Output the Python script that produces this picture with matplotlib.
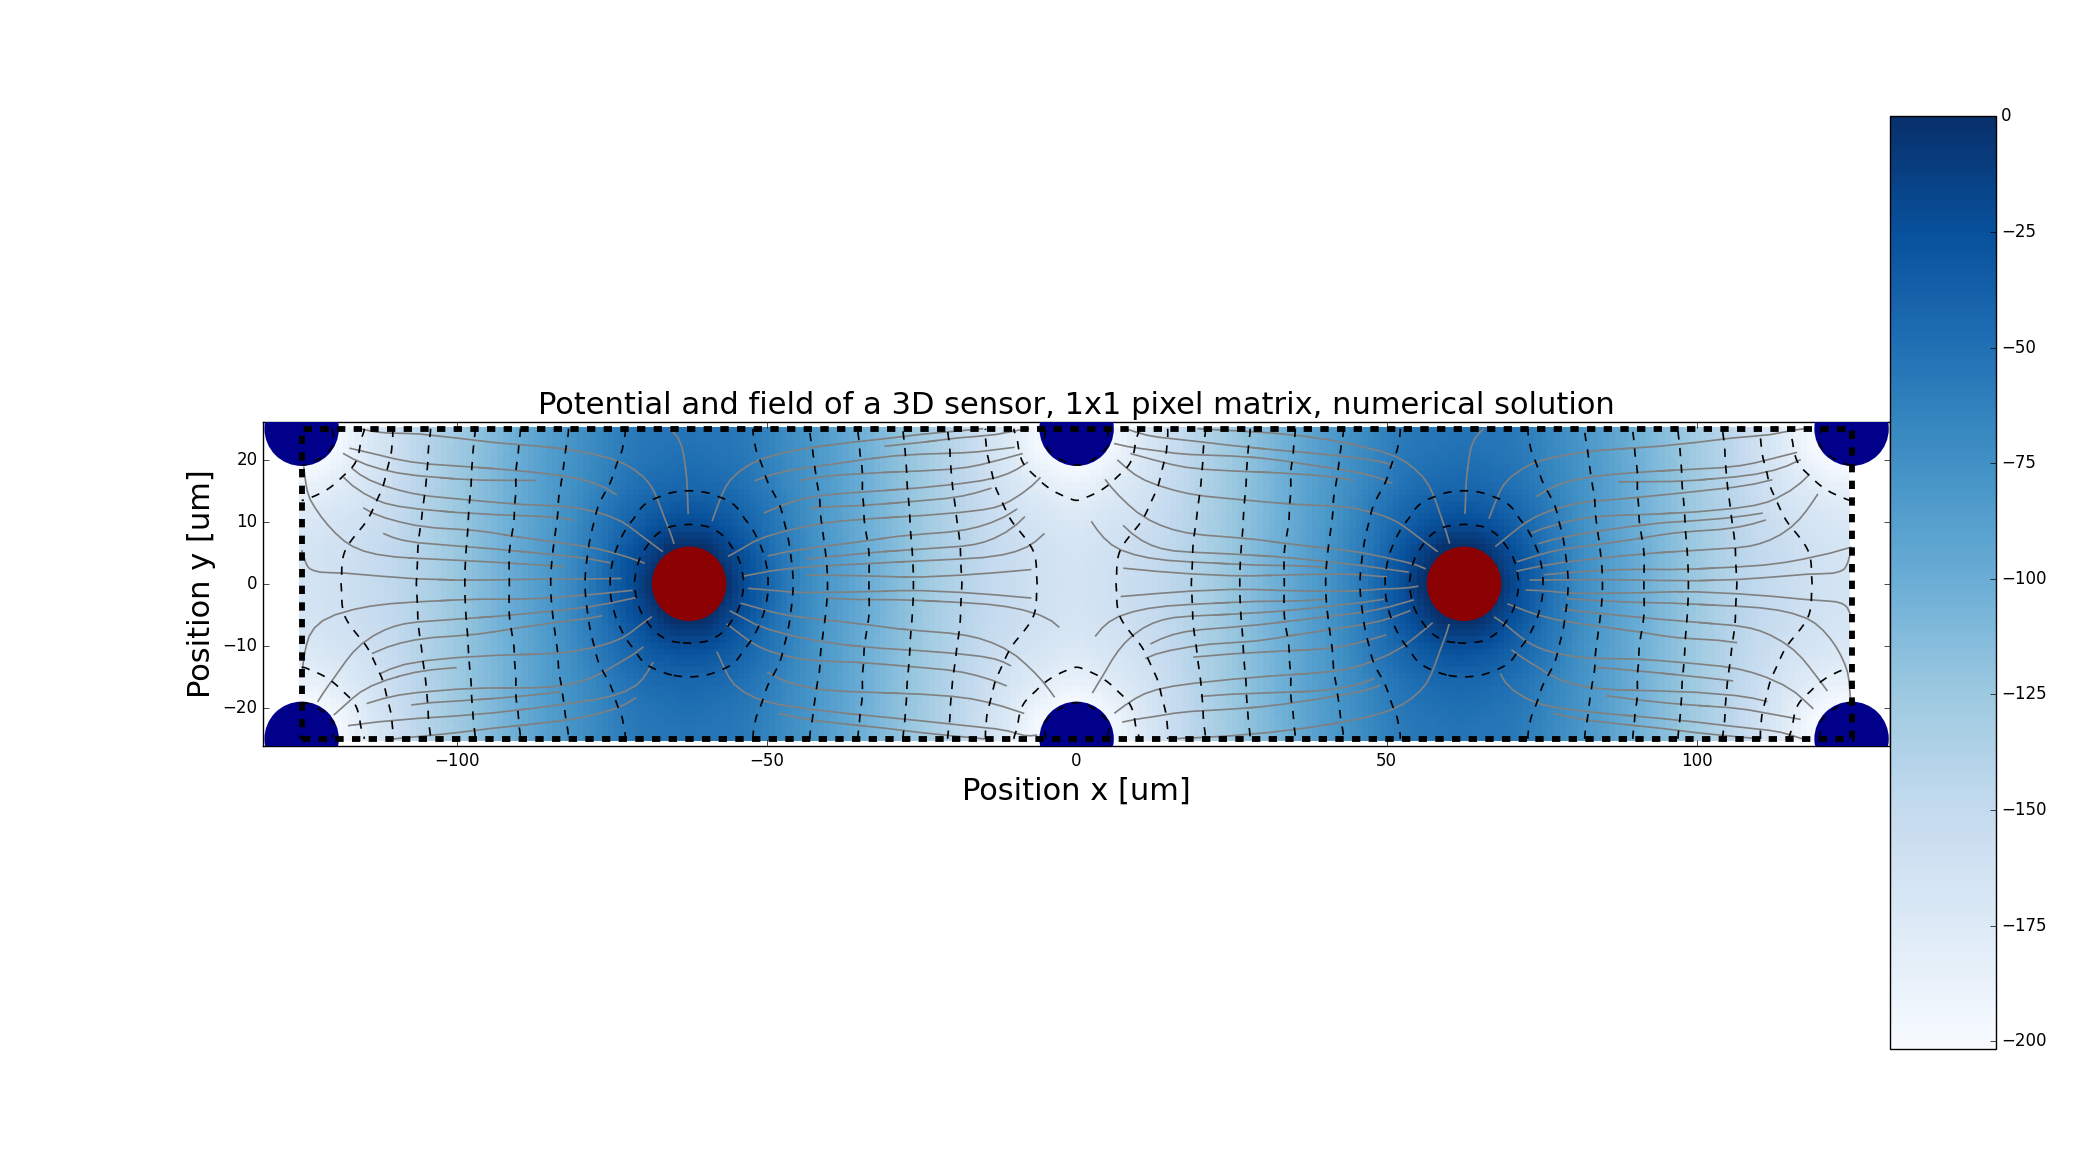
import matplotlib
matplotlib.use("Agg")
import matplotlib.pyplot as plt
import matplotlib.tri as mtri
import numpy as np

plt.style.use("classic")
plt.rcParams["figure.facecolor"] = "white"
plt.rcParams["savefig.facecolor"] = "white"
plt.rcParams["font.family"] = "DejaVu Sans"

TITLE = "Potential and field of a 3D sensor, 1x1 pixel matrix, numerical solution"
X_LABEL = "Position x [um]"
Y_LABEL = "Position y [um]"
X_TICKS = [-100, -50, 0, 50, 100]
Y_TICKS = [-20, -10, 0, 10, 20]
CBAR_TICKS = [0, -25, -50, -75, -100, -125, -150, -175, -200]
CONTOUR_LEVELS = [-200, -180, -160, -140, -120, -100, -80, -60, -40, -20]

# Column electrodes [um]
READOUT_COLUMNS = [(-62.5, 0), (62.5, 0)]
BIAS_COLUMNS = [(-125, 25), (-125, -25), (0, 25), (0, -25), (125, 25), (125, -25)]
COLUMN_RADIUS = 6.0
PIXEL_X = (-125, 125)
PIXEL_Y = (-25, 25)

# Potential [V] in one quadrant of a readout column:
# columns are the x distance from the readout column, rows are |y|.
dist_x = [0, 3, 6, 9, 12.5, 17, 22, 29, 36, 44, 50, 54, 57, 60, 62.5]
dist_y = [0, 5, 10, 13, 15, 18, 21, 23, 25]
pot_y00 = [25, 15, 0, -21, -39, -61, -79, -100, -119.5, -140, -151, -157, -161, -164, -165]
pot_y05 = [5, 2, -13, -26, -43, -62.5, -80, -100, -120, -140.5, -152, -158, -161.5, -165, -167]
pot_y10 = [-22, -24, -30, -39, -50, -66, -82, -102, -121, -142, -156, -163, -167, -171, -172.5]
pot_y13 = [-33, -35, -38.5, -44.5, -54, -68, -82.5, -102.5, -121.5, -143, -158.5, -168, -172.5, -176.5, -179]
pot_y15 = [-40, -41, -44, -49, -57.5, -70, -83, -103, -122, -144, -161, -171, -177, -182, -184]
pot_y18 = [-46, -47, -49, -53, -61, -72, -84, -103, -122.5, -145, -164, -177, -185, -193, -196]
pot_y21 = [-50, -51, -53, -56.5, -63, -73, -85, -104, -123, -146, -167, -183, -195, -203, -205]
pot_y23 = [-52, -53, -54.5, -57.5, -64, -74, -85.5, -104.5, -123.5, -146.5, -168, -185, -199, -207, -210]
pot_y25 = [-53, -54, -55.5, -58, -64.5, -74.5, -86, -105, -124, -147, -169, -187, -198, -208, -212]

# Field line seeds [um]: y positions of the lines crossing a given x
seed_y_m100 = [23.5, 21.7, 19, 16.9, 13.7, 11.5, 8.8, 6.1, 3.8, 0.6, -0.2, -2.6, -5.7, -8.4,
               -11.9, -13.5, -14.8, -17, -18.9, -21.3, -24]
seed_y_m25 = [24.1, 22.8, 20.9, 18.2, 15.5, 13.4, 11, 8, 5.6, 3.7, 2.6, 1.1, -1.1, -2.7, -4.1,
              -7.6, -10.8, -13.5, -14.8, -17.8, -19.1, -22.1, -24]
seed_y_p25 = [24.7, 22.3, 20.6, 18.2, 13.7, 12.3, 7.5, 4.8, 3.2, 1.3, -0.9, -3, -4.9, -7, -9.5,
              -11.3, -15.4, -17.8, -20.2, -21.6, -24.5]
seed_y_p100 = [22.8, 18.5, 16.7, 14.9, 13.5, 11.6, 10.2, 8.5, 5.4, 2.4, 0.5, -1.3, -3.3, -6.2,
               -8.9, -12.9, -15, -17.5, -19.6, -22.3, -24]
seed_x_near = [-63, -56, -69, -57, 63, 56, 69, 57, -5, 5, -6, 6, -119, -119, 119, 119]
seed_y_near = [18, 15, -17, -18, 18, 15, -17, -18, 17, 17, -16, -16, 17, -17, 17, -17]


def potential_field(step=0.25):
    """Smooth the quadrant table and unfold it over the whole pixel pair."""
    table = np.array([pot_y00, pot_y05, pot_y10, pot_y13, pot_y15, pot_y18, pot_y21, pot_y23, pot_y25], float)
    dx, dy = np.array(dist_x), np.array(dist_y)
    # mirror the table so the smoothing sees the symmetry planes
    mx = np.r_[-dx[:0:-1], dx, 125 - dx[-2::-1]]
    my = np.r_[-dy[:0:-1], dy, 50 - dy[-2::-1]]
    col_table = np.hstack([table[:, :0:-1], table, table[:, -2::-1]])
    full = np.vstack([col_table[:0:-1], col_table, col_table[-2::-1]])
    gx, gy = np.meshgrid(mx, my)
    tri = mtri.Triangulation(gx.ravel(), gy.ravel())
    interp = mtri.CubicTriInterpolator(tri, full.ravel(), kind="min_E")

    x = np.arange(-125, 125 + step / 2, step)
    y = np.arange(-25, 25 + step / 2, step)
    xx, yy = np.meshgrid(x, y)
    qx = np.abs(np.abs(xx) - 62.5)
    qy = np.abs(yy)
    z = np.ma.filled(interp(qx, qy), np.nan)
    return x, y, z


x, y, pot = potential_field()
xx, yy = np.meshgrid(x, y)
step = x[1] - x[0]
grad_y, grad_x = np.gradient(pot, step, step)
field_x, field_y = -grad_x, -grad_y

# no field lines inside the columns or along the symmetry plane between them
blocked = np.abs(xx) < 2.0
for cx, cy in READOUT_COLUMNS + BIAS_COLUMNS:
    blocked |= (xx - cx) ** 2 + (yy - cy) ** 2 < COLUMN_RADIUS ** 2
field_x = np.ma.array(field_x, mask=blocked)
field_y = np.ma.array(field_y, mask=blocked)

seeds = np.vstack(
    [np.column_stack([np.full(len(s), sx), s]) for sx, s in
     ((-100, seed_y_m100), (-25, seed_y_m25), (25, seed_y_p25), (100, seed_y_p100))]
    + [np.column_stack([seed_x_near, seed_y_near])]
)

fig = plt.figure(figsize=(21, 11.67), dpi=100)
W, H = 2100.0, 1167.0
ax = fig.add_axes([263.2 / W, 1 - 746.0 / H, (1890 - 263.2) / W, (746.0 - 421.6) / H])
cax = fig.add_axes([1890 / W, 1 - 1048.5 / H, (1995.7 - 1890) / W, (1048.5 - 116.3) / H])

norm = plt.Normalize(-201.6, 0)
# coarse cells, as the potential was sampled
stride = 4
im = ax.imshow(np.clip(pot[::stride, ::stride], -200, 0), origin="lower", cmap="Blues", norm=norm,
               extent=(-125.5, 124.6, -25.3, 25.3), interpolation="nearest", aspect="auto", zorder=1)
ax.contour(xx, yy, pot, levels=CONTOUR_LEVELS, colors="k", linewidths=1.2, zorder=4)
ax.streamplot(x, y, field_x, field_y, density=1.25, color="gray", linewidth=1.2,
              arrowstyle="-", start_points=seeds, zorder=3)

for cx, cy in READOUT_COLUMNS:
    ax.add_patch(plt.Circle((cx, cy), COLUMN_RADIUS, color="darkred", linewidth=0, zorder=3.5))
for cx, cy in BIAS_COLUMNS:
    ax.add_patch(plt.Circle((cx, cy), COLUMN_RADIUS, color="darkblue", linewidth=0, zorder=3.5))

ax.plot([PIXEL_X[0], PIXEL_X[1], PIXEL_X[1], PIXEL_X[0], PIXEL_X[0]],
        [PIXEL_Y[0], PIXEL_Y[0], PIXEL_Y[1], PIXEL_Y[1], PIXEL_Y[0]],
        color="k", linewidth=4.2, linestyle=(0, (6, 6)), dash_capstyle="butt", zorder=5)

ax.set_xlim(-131.2, 131.2)
ax.set_ylim(-26.15, 26.15)
ax.set_xticks(X_TICKS)
ax.set_yticks(Y_TICKS)
ax.tick_params(labelsize=12)
ax.set_title(TITLE, fontsize=22, y=1.003)
ax.set_xlabel(X_LABEL, fontsize=22)
ax.set_ylabel(Y_LABEL, fontsize=22)

cb = fig.colorbar(im, cax=cax, ticks=CBAR_TICKS)
cb.ax.tick_params(labelsize=12)

fig.savefig("out.png", dpi=100)
